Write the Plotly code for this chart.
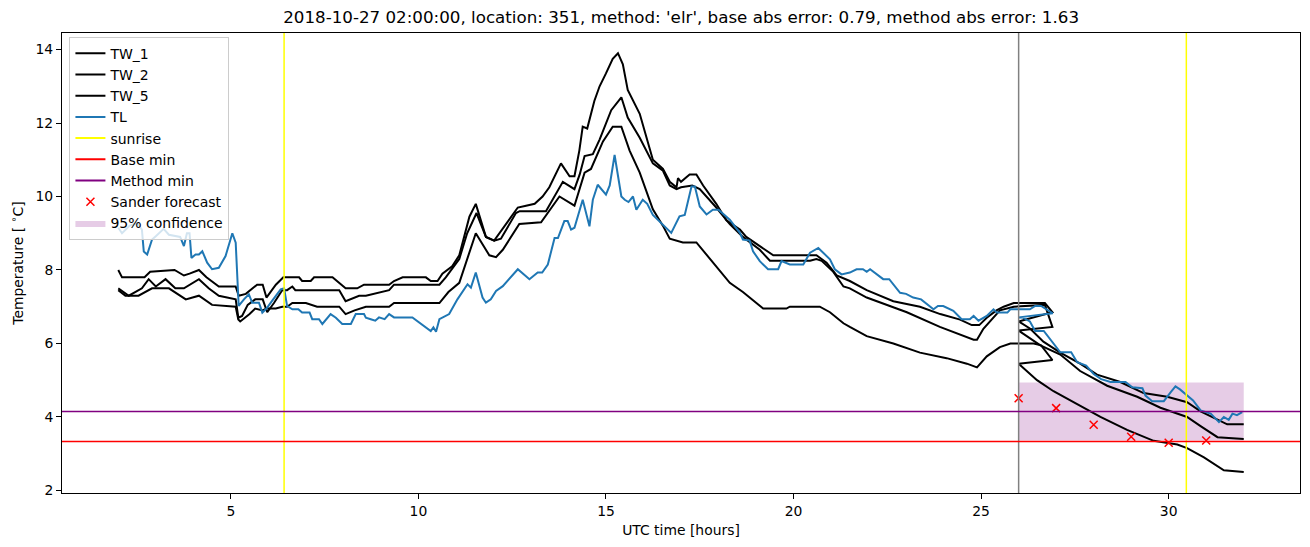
import plotly.graph_objects as go

# ---------------- data (hours UTC, temperature degC) ----------------
title_text = ("2018-10-27 02:00:00, location: 351, method: 'elr', "
              "base abs error: 0.79, method abs error: 1.63")

# TW_1 observed
tw1_obs_h = [2.0, 2.1, 2.7, 2.85, 3.5, 3.75, 3.9, 4.15, 4.35, 4.68,
             5.13, 5.21, 5.4, 5.7, 5.85, 5.95, 6.2, 6.4, 6.82, 6.9,
             7.13, 7.22, 7.71, 8.06, 8.37, 8.55, 9.22, 9.35, 9.58, 10.2,
             10.33, 10.51, 10.64, 10.9, 11.09, 11.36, 11.53, 11.8, 12.02, 12.16,
             12.65, 12.87, 13.1, 13.31, 13.49, 13.8, 14.03, 14.16, 14.29, 14.38,
             14.5, 14.69, 14.83, 15.0, 15.18, 15.32, 15.45, 15.58, 15.9, 16.25,
             16.52, 16.7, 16.88, 16.92, 17.0, 17.23, 17.41, 17.59, 17.94, 18.21,
             18.57, 18.74, 19.1, 19.46, 20.61, 20.88, 21.15, 21.5, 21.95, 22.66,
             23.37, 23.91, 24.44, 24.75, 24.95, 25.15, 25.41, 25.6, 25.87, 26.7,
             26.9]
tw1_obs_v = [8.0, 7.8, 7.8, 7.95, 8.0, 7.85, 7.9, 8.0, 7.8, 7.55,
             7.55, 7.3, 7.35, 7.6, 7.6, 7.25, 7.6, 7.8, 7.8, 7.7,
             7.7, 7.8, 7.8, 7.5, 7.5, 7.6, 7.6, 7.7, 7.8, 7.8,
             7.7, 7.7, 7.9, 8.1, 8.4, 9.45, 9.8, 8.9, 8.8, 9.0,
             9.7, 9.75, 9.8, 10.0, 10.25, 10.9, 10.55, 10.55, 11.25, 11.9,
             11.85, 12.6, 13.0, 13.35, 13.75, 13.9, 13.6, 12.9, 12.25, 11.0,
             10.75, 10.4, 10.25, 10.5, 10.4, 10.6, 10.6, 10.3, 9.8, 9.35,
             9.1, 8.9, 8.65, 8.4, 8.4, 8.2, 7.85, 7.7, 7.45, 7.15,
             7.0, 6.8, 6.65, 6.5, 6.5, 6.7, 6.9, 7.0, 7.1, 7.1,
             6.85]
# TW_1 forecast
tw1_fc_h = [26.0, 26.31, 26.66, 27.11, 27.64, 28.09, 28.71, 29.33, 29.96, 30.49, 30.85, 31.56, 32.0]
tw1_fc_v = [6.6, 6.4, 6.05, 5.75, 5.45, 5.15, 4.95, 4.65, 4.55, 4.4, 4.15, 3.8, 3.8]

# TW_2 observed
tw2_obs_h = [2.0, 2.28, 2.63, 2.81, 3.0, 3.26, 3.52, 3.75, 4.15, 4.41,
             4.68, 5.13, 5.2, 5.3, 5.45, 5.65, 5.85, 5.97, 6.15, 6.37,
             6.5, 6.64, 6.72, 7.0, 7.89, 8.06, 8.2, 8.42, 8.6, 9.22,
             9.35, 10.56, 10.73, 11.09, 11.3, 11.55, 11.8, 12.02, 12.2, 12.6,
             12.7, 13.4, 13.85, 14.16, 14.3, 14.43, 14.65, 14.83, 15.14, 15.41,
             15.58, 15.9, 16.25, 16.52, 16.7, 16.88, 17.0, 17.3, 17.5, 17.94,
             18.3, 18.65, 19.1, 19.37, 20.44, 20.61, 20.75, 21.06, 21.33, 21.5,
             21.95, 23.02, 23.9, 24.8, 24.89, 25.06, 25.5, 25.87, 26.7, 26.9]
tw2_obs_v = [7.5, 7.3, 7.5, 7.75, 7.55, 7.75, 7.5, 7.5, 7.75, 7.5,
             7.3, 7.2, 6.7, 6.75, 7.05, 7.2, 7.2, 6.85, 7.1, 7.45,
             7.45, 7.55, 7.45, 7.45, 7.45, 7.15, 7.2, 7.3, 7.3, 7.45,
             7.6, 7.6, 7.8, 8.3, 9.0, 9.55, 8.9, 8.8, 8.85, 9.55,
             9.6, 9.6, 10.4, 10.2, 10.6, 11.1, 11.15, 11.55, 12.35, 12.7,
             12.15, 11.6, 10.9, 10.7, 10.3, 10.2, 10.25, 10.3, 10.2, 9.7,
             9.25, 8.9, 8.55, 8.25, 8.25, 8.3, 8.25, 7.95, 7.55, 7.5,
             7.25, 6.85, 6.45, 6.1, 6.1, 6.4, 6.9, 7.0, 7.05, 6.45]
# TW_2 forecast
tw2_fc_h = [26.0, 26.58, 27.11, 27.64, 28.36, 29.16, 29.78, 30.49, 30.85, 31.3, 32.0]
tw2_fc_v = [6.35, 5.95, 5.7, 5.25, 4.85, 4.55, 4.25, 4.0, 3.75, 3.45, 3.4]

# TW_5 observed
tw5_obs_h = [2.0, 2.19, 2.54, 2.9, 3.35, 3.8, 4.15, 4.5, 5.13, 5.2,
             5.25, 5.5, 5.65, 5.85, 5.95, 6.2, 6.37, 6.5, 6.64, 7.0,
             7.3, 7.89, 8.06, 8.3, 8.6, 9.22, 9.35, 10.56, 10.8, 11.09,
             11.53, 11.89, 12.07, 12.25, 12.69, 13.27, 13.76, 14.16, 14.43, 14.6,
             14.92, 15.18, 15.41, 15.63, 15.9, 16.25, 16.52, 16.7, 17.05, 17.41,
             18.3, 18.65, 19.19, 19.81, 19.9, 20.7, 20.97, 21.33, 21.5, 21.95,
             22.66, 23.37, 24.08, 24.62, 24.89, 25.15, 25.5, 25.78, 26.4, 26.6,
             26.9]
tw5_obs_v = [7.45, 7.3, 7.3, 7.5, 7.5, 7.2, 7.3, 7.05, 7.0, 6.65,
             6.6, 6.8, 6.95, 6.9, 6.95, 6.95, 7.0, 7.0, 7.1, 7.1,
             7.0, 7.0, 6.8, 6.9, 7.0, 7.0, 7.1, 7.1, 7.4, 7.65,
             9.0, 8.4, 8.35, 8.55, 9.25, 9.3, 10.0, 9.75, 10.65, 10.75,
             11.5, 11.9, 11.9, 11.25, 10.65, 9.65, 9.2, 8.85, 8.75, 8.75,
             7.65, 7.4, 6.95, 6.95, 7.0, 7.0, 6.85, 6.55, 6.45, 6.2,
             6.0, 5.75, 5.6, 5.45, 5.35, 5.65, 5.9, 6.0, 6.0, 5.95,
             5.55]
# TW_5 forecast
tw5_fc_h = [26.0, 26.49, 26.93, 27.56, 28.18, 28.89, 29.6, 30.23, 30.49, 30.94, 31.47, 32.0]
tw5_fc_v = [5.45, 5.0, 4.7, 4.35, 4.0, 3.65, 3.35, 3.25, 3.15, 2.9, 2.55, 2.5]

# TL observed
tl_obs_h = [2.0, 2.1, 2.3, 2.5, 2.63, 2.68, 2.77, 2.9, 3.0, 3.21,
            3.35, 3.52, 3.65, 3.75, 3.83, 3.9, 3.95, 4.06, 4.15, 4.24,
            4.37, 4.5, 4.68, 4.86, 5.04, 5.13, 5.21, 5.35, 5.48, 5.57,
            5.75, 5.84, 5.95, 6.1, 6.33, 6.42, 6.5, 6.64, 6.8, 6.9,
            7.1, 7.17, 7.35, 7.44, 7.5, 7.66, 7.8, 7.97, 8.2, 8.33,
            8.55, 8.6, 8.73, 8.85, 8.95, 9.1, 9.22, 9.35, 9.84, 10.02,
            10.2, 10.33, 10.4, 10.47, 10.56, 10.65, 10.82, 11.04, 11.22, 11.31,
            11.4, 11.53, 11.71, 11.8, 11.93, 12.07, 12.25, 12.42, 12.65, 12.96,
            13.18, 13.3, 13.45, 13.63, 13.72, 13.89, 13.98, 14.07, 14.16, 14.38,
            14.56, 14.65, 14.78, 15.0, 15.1, 15.23, 15.41, 15.5, 15.6, 15.72,
            15.81, 15.98, 16.1, 16.25, 16.52, 16.74, 16.96, 17.1, 17.28, 17.37,
            17.5, 17.68, 17.85, 18.0, 18.3, 18.57, 18.65, 18.83, 18.92, 19.1,
            19.32, 19.59, 19.68, 19.9, 20.26, 20.44, 20.66, 20.8, 20.97, 21.1,
            21.28, 21.5, 21.68, 21.85, 21.95, 22.04, 22.21, 22.39, 22.55, 22.84,
            23.0, 23.19, 23.4, 23.55, 23.73, 23.85, 23.99, 24.26, 24.48, 24.7,
            24.8, 24.93, 25.15, 25.33, 25.42, 25.7, 25.78, 26.3, 26.44, 26.6,
            26.75, 26.91]
tl_obs_v = [9.15, 9.0, 9.2, 9.28, 9.1, 8.5, 8.42, 8.83, 8.92, 9.12,
            8.96, 8.92, 8.9, 8.65, 9.0, 9.0, 8.33, 8.42, 8.42, 8.51,
            8.2, 8.02, 8.06, 8.38, 9.0, 8.74, 7.02, 7.2, 7.34, 7.11,
            7.11, 6.84, 6.95, 7.16, 7.47, 7.5, 7.02, 6.93, 6.93, 6.84,
            6.84, 6.66, 6.66, 6.53, 6.6, 6.8, 6.7, 6.53, 6.53, 6.8,
            6.8, 6.7, 6.66, 6.62, 6.71, 6.66, 6.8, 6.71, 6.71, 6.57,
            6.44, 6.34, 6.44, 6.32, 6.66, 6.71, 6.8, 7.2, 7.47, 7.61,
            7.52, 7.93, 7.25, 7.11, 7.2, 7.43, 7.56, 7.75, 8.02, 7.75,
            7.93, 7.93, 8.15, 8.87, 8.87, 9.33, 9.33, 9.1, 9.15, 9.91,
            9.19, 9.91, 10.32, 10.05, 10.3, 11.13, 10.0, 9.91, 9.85, 10.0,
            9.64, 9.91, 9.8, 9.5, 9.24, 9.01, 9.46, 9.5, 10.27, 10.27,
            9.73, 9.51, 9.64, 9.64, 9.37, 9.01, 8.83, 8.8, 8.51, 8.24,
            8.02, 8.02, 8.24, 8.15, 8.15, 8.47, 8.6, 8.47, 8.29, 8.02,
            7.88, 7.93, 8.02, 8.02, 7.95, 8.02, 7.88, 7.75, 7.75, 7.38,
            7.35, 7.25, 7.2, 7.07, 6.93, 7.02, 7.02, 6.89, 6.66, 6.66,
            6.75, 6.62, 6.75, 6.93, 6.84, 6.84, 6.93, 6.93, 7.02, 7.02,
            6.93, 6.82]
# TL forecast
tl_fc_h = [26.0, 26.1, 26.3, 26.44, 26.67, 26.84, 27.11, 27.4, 27.56, 27.8,
           28.0, 28.2, 28.45, 28.85, 29.03, 29.3, 29.38, 29.56, 29.87, 30.05,
           30.18, 30.3, 30.49, 30.65, 30.85, 31.12, 31.34, 31.47, 31.6, 31.7,
           31.82, 31.96]
tl_fc_v = [6.71, 6.71, 6.6, 6.34, 6.34, 6.12, 5.76, 5.76, 5.49, 5.4,
           5.17, 5.03, 4.95, 4.95, 4.81, 4.78, 4.58, 4.43, 4.43, 4.67,
           4.83, 4.75, 4.58, 4.45, 4.18, 4.09, 3.86, 4.0, 3.92, 4.09,
           4.05, 4.13]

sunrise_hours = [6.42, 30.47]
forecast_start = 26.0
base_min = 3.33
method_min = 4.15

sander_h = [26, 27, 28, 29, 30, 31]
sander_v = [4.51, 4.24, 3.79, 3.46, 3.30, 3.36]

conf_start, conf_end = 26.0, 32.0
conf_low, conf_high = 3.36, 4.94

x_ticks = [5, 10, 15, 20, 25, 30]
y_ticks = [2, 4, 6, 8, 10, 12, 14]

# ---------------- figure ----------------
FONT = "DejaVu Sans"
BLUE = "#1f77b4"
FIG_W, FIG_H = 1302, 539   # page body keeps an 8px margin
fig = go.Figure()

# confidence band (drawn first, listed last in legend)
fig.add_trace(go.Scatter(
    x=[conf_start, conf_end, conf_end, conf_start, conf_start],
    y=[conf_low, conf_low, conf_high, conf_high, conf_low],
    fill="toself", fillcolor="rgba(128,0,128,0.2)", mode="lines",
    line=dict(width=0, color="rgba(128,0,128,0.2)"),
    name="95% confidence", legendrank=9))

series = [("TW_1", tw1_obs_h + tw1_fc_h, tw1_obs_v + tw1_fc_v, "black", 1),
          ("TW_2", tw2_obs_h + tw2_fc_h, tw2_obs_v + tw2_fc_v, "black", 2),
          ("TW_5", tw5_obs_h + tw5_fc_h, tw5_obs_v + tw5_fc_v, "black", 3),
          ("TL", tl_obs_h + tl_fc_h, tl_obs_v + tl_fc_v, BLUE, 4)]
for name, xs, ys, col, rank in series:
    assert len(xs) == len(ys), name
    fig.add_trace(go.Scatter(x=xs, y=ys, mode="lines", name=name,
                             line=dict(color=col, width=2), legendrank=rank))

# legend-only entries for reference lines
fig.add_trace(go.Scatter(x=[None], y=[None], mode="lines", name="sunrise",
                         line=dict(color="yellow", width=2), legendrank=5))
fig.add_trace(go.Scatter(x=[None], y=[None], mode="lines", name="Base min",
                         line=dict(color="red", width=2), legendrank=6))
fig.add_trace(go.Scatter(x=[None], y=[None], mode="lines", name="Method min",
                         line=dict(color="purple", width=2), legendrank=7))

for s in sunrise_hours:
    fig.add_vline(x=s, line=dict(color="yellow", width=1.5))
fig.add_vline(x=forecast_start, line=dict(color="grey", width=1.5))
fig.add_hline(y=base_min, line=dict(color="red", width=1.5))
fig.add_hline(y=method_min, line=dict(color="purple", width=1.5))

fig.add_trace(go.Scatter(
    x=sander_h, y=sander_v, mode="markers", name="Sander forecast",
    marker=dict(symbol="x-thin", size=8, line=dict(color="red", width=1.5), color="red"),
    legendrank=8))

axis_common = dict(showline=True, linecolor="black", linewidth=1, mirror=True,
                   ticks="outside", ticklen=5, tickwidth=1, tickcolor="black",
                   showgrid=False, zeroline=False, automargin=False,
                   tickfont=dict(family=FONT, size=13.9, color="black"))

fig.update_layout(
    width=FIG_W, height=FIG_H,
    margin=dict(l=54, r=10, t=25, b=54, autoexpand=False),
    paper_bgcolor="white", plot_bgcolor="white",
    font=dict(family=FONT, size=13.9, color="black"),
    title=dict(text=title_text, x=0.517, xanchor="center", xref="container",
               y=1 - 9 / FIG_H, yref="container", yanchor="middle",
               font=dict(family=FONT, size=16.7, color="black")),
    xaxis=dict(range=[0.5, 33.5], tickvals=x_ticks,
               title=dict(text="UTC time [hours]", standoff=7,
                          font=dict(family=FONT, size=13.9)),
               **axis_common),
    yaxis=dict(range=[1.93, 14.45], tickvals=y_ticks,
               title=dict(text="Temperature [ <sup>∘</sup>C]", standoff=9,
                          font=dict(family=FONT, size=13.9)),
               **axis_common),
    legend=dict(x=0.006, y=0.992, xanchor="left", yanchor="top",
                bgcolor="rgba(255,255,255,0.8)", bordercolor="#cccccc",
                borderwidth=1, font=dict(family=FONT, size=14),
                itemwidth=30, tracegroupgap=0),
    showlegend=True,
)

fig.write_html("out.html")
